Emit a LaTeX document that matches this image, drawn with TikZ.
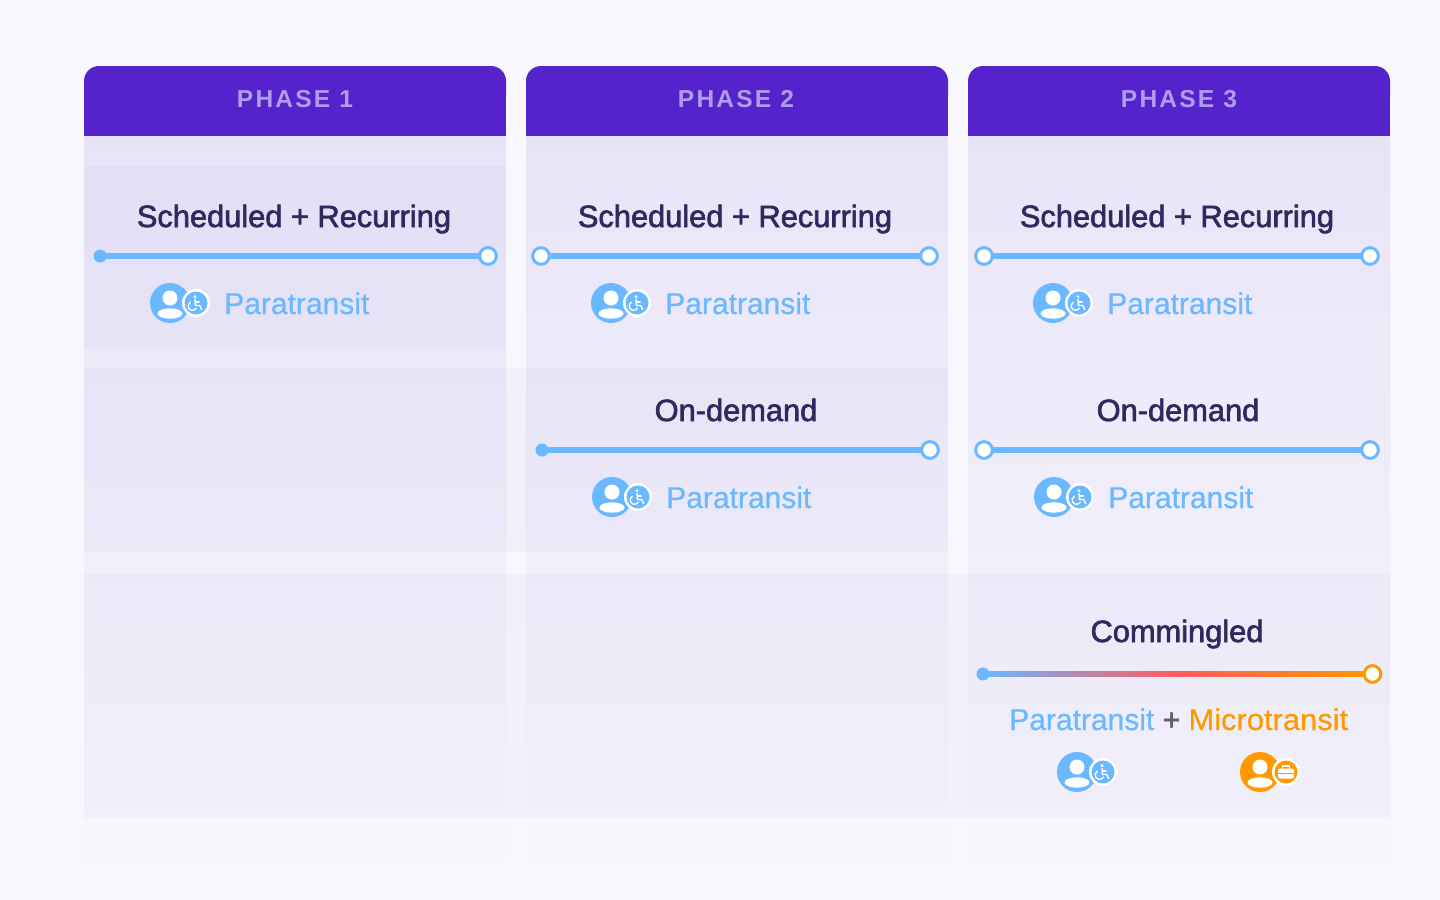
\documentclass[tikz,border=0pt]{standalone}
\usepackage{fontspec}
\usepackage{xcolor}
\usetikzlibrary{calc}
\setmainfont{Liberation Sans}
\newfontfamily\titlefont[FakeBold=2]{Liberation Sans}
\newfontfamily\headfont[LetterSpace=9]{Liberation Sans Bold}
\newfontfamily\modefont[FakeBold=0.4]{Liberation Sans}
\newfontfamily\microfont[FakeBold=0.4,FakeStretch=1.03]{Liberation Sans}
\definecolor{vpage}{HTML}{F8F7FD}
\definecolor{vbody}{HTML}{E8E4F8}
\definecolor{vband}{HTML}{4040A0}
\definecolor{vhead}{HTML}{5423CB}
\definecolor{vheadtext}{HTML}{B09DEF}
\definecolor{vtitle}{HTML}{32275F}
\definecolor{vblue}{HTML}{6AB8FF}
\definecolor{vorange}{HTML}{FF9900}
\definecolor{vred}{HTML}{FF5A5F}
\definecolor{vplus}{HTML}{5F5F6B}
\tikzset{
	head/.style = {fill = vhead},
	body/.style = {top color = vbody, bottom color = vpage},
	band/.style = {fill = vband, fill opacity = 0.033},
	phase/.style = {anchor = base, text = vheadtext, font = \headfont\fontsize{18.4}{20}\selectfont},
	title/.style = {anchor = base, text = vtitle, font = \titlefont\fontsize{23.1}{26}\selectfont},
	mode/.style = {anchor = base west, inner sep = 0, text = vblue, font = \modefont\fontsize{22.5}{26}\selectfont},
	dotstart/.style = {circle, inner sep = 0, minimum size = 9.75pt, fill = vblue},
	dotend/.style = {circle, inner sep = 0, minimum size = 12.5pt, fill = white, draw = vblue, line width = 2.25pt},
	bar/.style = {draw = vblue, line width = 4.2pt, shorten <= -1pt, shorten >= -1pt},
	rider/.pic = {
		\fill[#1] (0,0) circle (20);
		\begin{scope}
			\clip (0,0) circle (20);
			\fill[white] (0,-5) circle (7.5);
			\fill[white] (0,10.5) ellipse (12.5 and 5.2);
		\end{scope}
		\fill[white] (26,0) circle (14);
		\fill[#1] (26,0) circle (11.5);
	},
	wheelchair/.pic = {
		\fill[white] (-1,-6.2) circle (1.6);
		\draw[white, line width = 1.1pt, line cap = round, line join = round] (-1,-3.5) -- (-0.5,2.5) -- (3.8,2.5) -- (5.6,6.5);
		\draw[white, line width = 0.9pt, line cap = round] (-0.8,-1) -- (3.2,-1);
		\draw[white, line width = 1pt, line cap = round] (-5.7,-0.8) arc[start angle = 240, end angle = 30, radius = 4.4];
	},
	briefcase/.pic = {
		\draw[white, line width = 0.9pt] (-3.5,-3) -- (-3.5,-6) -- (3.5,-6) -- (3.5,-3);
		\fill[white, rounded corners = 1.5] (-8,-3.5) rectangle (8,6.5);
		\fill[vorange] (-8,1) rectangle (8,2);
	}
}
\begin{document}
\begin{tikzpicture}[x = 0.75pt, y = -0.75pt]
	\fill[vpage] (0,0) rectangle (1440,900);
	% columns
	\path[body] (84,136) rectangle (506,880);
	\path[body] (526,136) rectangle (948,880);
	\path[body] (968,136) rectangle (1390,880);
	\fill[band] (84,166) rectangle (506,349);
	\fill[band] (84,368) rectangle (947,552);
	\fill[band] (84,574) rectangle (1390,818);
	\fill[head, rounded corners = 11.25pt] (84,66) rectangle (506,110);
	\fill[head] (84,90) rectangle (506,136);
	\fill[head, rounded corners = 11.25pt] (526,66) rectangle (948,110);
	\fill[head] (526,90) rectangle (948,136);
	\fill[head, rounded corners = 11.25pt] (968,66) rectangle (1390,110);
	\fill[head] (968,90) rectangle (1390,136);
	\node[phase] (phaseA) at (295,107.5) {PHASE 1};
	\node[phase] (phaseB) at (736,107.5) {PHASE 2};
	\node[phase] (phaseC) at (1179,107.5) {PHASE 3};
	% phase-1
	\node[title] (schedA) at (294,227) {Scheduled + Recurring};
	\node[dotstart] (schedAstart) at (100,256) {};
	\node[dotend] (schedAend) at (488,256) {};
	\draw[bar] (schedAstart) -- (schedAend);
	\pic at (170,303) {rider = vblue};
	\pic at (196,303) {wheelchair};
	\node[mode] (paraA) at (224,314) {Paratransit};
	% phase-2
	\node[title] (schedB) at (735,227) {Scheduled + Recurring};
	\node[dotend] (schedBstart) at (541,256) {};
	\node[dotend] (schedBend) at (929,256) {};
	\draw[bar] (schedBstart) -- (schedBend);
	\pic at (611,303) {rider = vblue};
	\pic at (637,303) {wheelchair};
	\node[mode] (paraB) at (665,314) {Paratransit};
	\node[title] (demandB) at (736,421) {On-demand};
	\node[dotstart] (demandBstart) at (542,450) {};
	\node[dotend] (demandBend) at (930,450) {};
	\draw[bar] (demandBstart) -- (demandBend);
	\pic at (612,497) {rider = vblue};
	\pic at (638,497) {wheelchair};
	\node[mode] (paraC) at (666,508) {Paratransit};
	% phase-3
	\node[title] (schedC) at (1177,227) {Scheduled + Recurring};
	\node[dotend] (schedCstart) at (984,256) {};
	\node[dotend] (schedCend) at (1370,256) {};
	\draw[bar] (schedCstart) -- (schedCend);
	\pic at (1053,303) {rider = vblue};
	\pic at (1079,303) {wheelchair};
	\node[mode] (paraD) at (1107,314) {Paratransit};
	\node[title] (demandC) at (1178,421) {On-demand};
	\node[dotend] (demandCstart) at (984,450) {};
	\node[dotend] (demandCend) at (1370,450) {};
	\draw[bar] (demandCstart) -- (demandCend);
	\pic at (1054,497) {rider = vblue};
	\pic at (1080,497) {wheelchair};
	\node[mode] (paraE) at (1108,508) {Paratransit};
	\node[title] (mixC) at (1177,642) {Commingled};
	\path[left color = vblue, right color = vorange, middle color = vred] ($(983,674)+(0,-2.8)$) rectangle ($(1372,674)+(0,2.8)$);
	\node[dotstart] (mixCstart) at (983,674) {};
	\node[dotend, draw = vorange, minimum size = 12.5pt] (mixCend) at (1372.5,674) {};
	\node[mode] (paraF) at (1009,730) {Paratransit \textcolor{vplus}{\titlefont+} \textcolor{vorange}{\microfont Microtransit}};
	\pic at (1077,772) {rider = vblue};
	\pic at (1103,772) {wheelchair};
	\pic at (1260,772) {rider = vorange};
	\pic at (1286,772) {briefcase};
\end{tikzpicture}
\end{document}
